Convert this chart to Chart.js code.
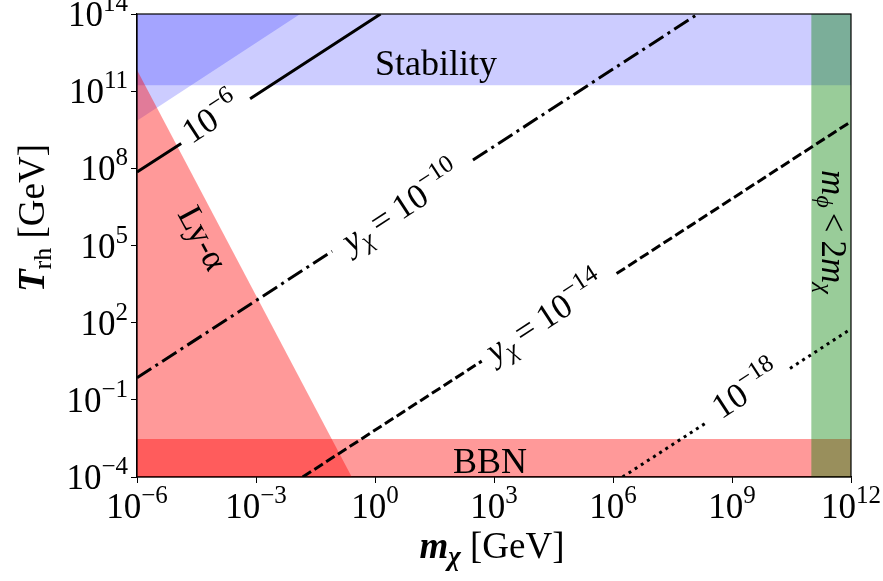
<!DOCTYPE html>
<html>
<head>
<meta charset="utf-8">
<script src="https://cdn.jsdelivr.net/npm/chart.js@4.4.1/dist/chart.umd.min.js"></script>
<style>
  html, body { margin: 0; padding: 0; background: #fff; }
  #wrap { width: 883px; height: 581px; }
</style>
</head>
<body>
<div id="wrap"><canvas id="chart" width="883" height="581"></canvas></div>
<script>
// decade ticks on both axes
const xTicks = [1e-6, 1e-3, 1e0, 1e3, 1e6, 1e9, 1e12];
const xTickExp = ['\u22126', '\u22123', '0', '3', '6', '9', '12'];
const yTicks = [1e-4, 1e-1, 1e2, 1e5, 1e8, 1e11, 1e14];
const yTickExp = ['\u22124', '\u22121', '2', '5', '8', '11', '14'];

// shaded regions, corners in (m_chi, T_rh)
const stabilityM = [1e-6, 1e12, 1e12, 1e-6];
const stabilityT = [1.7e11, 1.7e11, 1e14, 1e14];
const wedgeM = [1e-6, 0.013, 1e-6];
const wedgeT = [7e9, 1e14, 1e14];
const lyaM = [1e-6, 1e-6, 0.26];
const lyaT = [1e-4, 6.6e11, 1e-4];
const bbnM = [1e-6, 1e12, 1e12, 1e-6];
const bbnT = [1e-4, 1e-4, 3e-3, 3e-3];
const decayM = [1e11, 1e12, 1e12, 1e11];
const decayT = [1e-4, 1e-4, 1e14, 1e14];

// y_chi contours; null leaves the gap for the inline label
const y6M = [1e-6, 1.3e-5, null, 7.1e-4, 1.38];
const y6T = [7.2e7, 9.3e8, null, 5.1e10, 1e14];
const y10M = [1e-6, 0.083, null, 295, 1.38e8];
const y10T = [0.72, 6.0e4, null, 2.1e8, 1e14];
const y14M = [0.015, 490, null, 1.23e6, 1e12];
const y14T = [1e-4, 3.2, null, 8.1e3, 6.6e9];
const y18M = [1.74e6, 2.3e8, null, 2.9e10, 1e12];
const y18T = [1e-4, 0.0132, null, 1.66, 57.5];

function pts(ms, ts) {
    return ms.map((m, i) => ({ x: m, y: ts[i] }));
}

function region(ms, ts, color, order) {
    return {
        data: pts(ms, ts),
        showLine: true,
        fill: 'shape',
        backgroundColor: color,
        borderWidth: 0,
        pointRadius: 0,
        order: order
    };
}

function contour(ms, ts, dash) {
    return {
        data: pts(ms, ts),
        showLine: true,
        fill: false,
        spanGaps: false,
        borderColor: '#000',
        borderWidth: 3,
        borderDash: dash,
        borderCapStyle: 'butt',
        pointRadius: 0,
        order: 0
    };
}

const FONT = '"Liberation Serif", "DejaVu Serif", serif';

function fontOf(r) {
    return (r.it ? 'italic ' : '') + (r.b ? 'bold ' : '') + r.s + 'px ' + FONT;
}

// draws a row of text runs centred on (cx, cy), rotated by deg
function drawRich(ctx, runs, cx, cy, deg, size) {
    ctx.save();
    ctx.translate(cx, cy);
    ctx.rotate(deg * Math.PI / 180);
    ctx.fillStyle = '#000';
    ctx.textBaseline = 'alphabetic';
    ctx.textAlign = 'left';
    let w = 0;
    runs.forEach(r => {
        ctx.font = fontOf(r);
        r.w = ctx.measureText(r.t).width + (r.pad || 0);
        w += r.w;
    });
    let x = -w / 2;
    const base = size * 0.33;
    runs.forEach(r => {
        ctx.font = fontOf(r);
        ctx.fillText(r.t, x, base + (r.dy || 0));
        x += r.w;
    });
    ctx.restore();
}

const ANG = -33;

const textPlugin = {
    id: 'texts',
    afterDraw(chart) {
        const ctx = chart.ctx;
        const a = chart.chartArea;
        const xs = chart.scales.x;
        const ys = chart.scales.y;

        // frame
        ctx.save();
        ctx.strokeStyle = '#000';
        ctx.lineWidth = 1.2;
        ctx.strokeRect(a.left, a.top, a.right - a.left, a.bottom - a.top);
        ctx.restore();

        // tick labels with superscripts
        ctx.save();
        ctx.fillStyle = '#000';
        xTicks.forEach((v, i) => {
            const px = xs.getPixelForValue(v);
            ctx.font = '35px ' + FONT;
            const w1 = ctx.measureText('10').width;
            ctx.font = '25px ' + FONT;
            const w2 = ctx.measureText(xTickExp[i]).width;
            const x0 = px - (w1 + w2) / 2;
            ctx.font = '35px ' + FONT;
            ctx.fillText('10', x0, 518);
            ctx.font = '25px ' + FONT;
            ctx.fillText(xTickExp[i], x0 + w1, 503);
        });
        yTicks.forEach((v, i) => {
            const py = ys.getPixelForValue(v);
            ctx.font = '25px ' + FONT;
            const w2 = ctx.measureText(yTickExp[i]).width;
            ctx.font = '35px ' + FONT;
            const w1 = ctx.measureText('10').width;
            const x0 = 128 - w1 - w2;
            ctx.fillText('10', x0, py + 12);
            ctx.font = '25px ' + FONT;
            ctx.fillText(yTickExp[i], x0 + w1, py - 3);
        });
        ctx.restore();

        // region labels
        drawRich(ctx, [{ t: 'Stability', s: 36 }], 436, 63, 0, 36);
        drawRich(ctx, [{ t: 'BBN', s: 36 }], 490, 461, 0, 36);
        drawRich(ctx, [{ t: 'Ly-\u03b1', s: 35 }], 203, 238, 62, 35);
        drawRich(ctx, [
            { t: 'm', s: 35, it: 1 }, { t: '\u03d5', s: 24, it: 1, dy: 5, pad: 5 },
            { t: '<', s: 35, pad: 8 }, { t: '2', s: 35 }, { t: 'm', s: 35, it: 1 },
            { t: '\u03c7', s: 24, it: 1, dy: 5 }
        ], 834, 232, 90, 35);

        // contour labels
        drawRich(ctx, [{ t: '10', s: 35 }, { t: '\u22126', s: 25, dy: -15 }], 211, 118, ANG, 35);
        drawRich(ctx, [
            { t: 'y', s: 35, it: 1 }, { t: '\u03c7', s: 25, it: 1, dy: 6, pad: 7 },
            { t: '=', s: 35, pad: 7 }, { t: '10', s: 35 }, { t: '\u221210', s: 25, dy: -15 }
        ], 401, 207, ANG, 35);
        drawRich(ctx, [
            { t: 'y', s: 35, it: 1 }, { t: '\u03c7', s: 25, it: 1, dy: 6, pad: 7 },
            { t: '=', s: 35, pad: 7 }, { t: '10', s: 35 }, { t: '\u221214', s: 25, dy: -15 }
        ], 545, 317, ANG, 35);
        drawRich(ctx, [{ t: '10', s: 35 }, { t: '\u221218', s: 25, dy: -15 }], 746, 390, ANG, 35);

        // axis titles
        drawRich(ctx, [
            { t: 'm', s: 37, it: 1, b: 1 }, { t: '\u03c7', s: 27, it: 1, b: 1, dy: 7 },
            { t: ' [GeV]', s: 37 }
        ], 492, 546, 0, 37);
        drawRich(ctx, [
            { t: 'T', s: 37, it: 1, b: 1 }, { t: 'rh', s: 26, dy: 7 },
            { t: ' [GeV]', s: 37 }
        ], 32, 218, -90, 37);
    }
};

new Chart(document.getElementById('chart'), {
    type: 'scatter',
    data: {
        datasets: [
            region(stabilityM, stabilityT, 'rgba(0, 0, 255, 0.2)', 6),
            region(wedgeM, wedgeT, 'rgba(0, 0, 255, 0.2)', 5),
            region(bbnM, bbnT, 'rgba(255, 0, 0, 0.4)', 4),
            region(lyaM, lyaT, 'rgba(255, 0, 0, 0.4)', 3),
            region(decayM, decayT, 'rgba(0, 128, 0, 0.4)', 2),
            contour(y6M, y6T, []),
            contour(y10M, y10T, [17, 5, 3, 5]),
            contour(y14M, y14T, [10, 4]),
            contour(y18M, y18T, [3, 4.3])
        ]
    },
    options: {
        responsive: false,
        animation: false,
        devicePixelRatio: 1,
        layout: { padding: { top: 14, right: 32, left: 0, bottom: 0 } },
        plugins: {
            legend: { display: false },
            tooltip: { enabled: false }
        },
        scales: {
            x: {
                type: 'logarithmic',
                min: 1e-6,
                max: 1e12,
                afterBuildTicks: s => { s.ticks = xTicks.map(v => ({ value: v })); },
                afterFit: s => { s.height = 104; },
                ticks: { display: false },
                grid: { drawOnChartArea: false, drawTicks: true, tickLength: 6, color: '#000', lineWidth: 1 },
                border: { display: true, color: '#000', width: 1.2 }
            },
            y: {
                type: 'logarithmic',
                min: 1e-4,
                max: 1e14,
                afterBuildTicks: s => { s.ticks = yTicks.map(v => ({ value: v })); },
                afterFit: s => { s.width = 137; },
                ticks: { display: false },
                grid: { drawOnChartArea: false, drawTicks: true, tickLength: 6, color: '#000', lineWidth: 1 },
                border: { display: true, color: '#000', width: 1.2 }
            }
        }
    },
    plugins: [textPlugin]
});
</script>
</body>
</html>
